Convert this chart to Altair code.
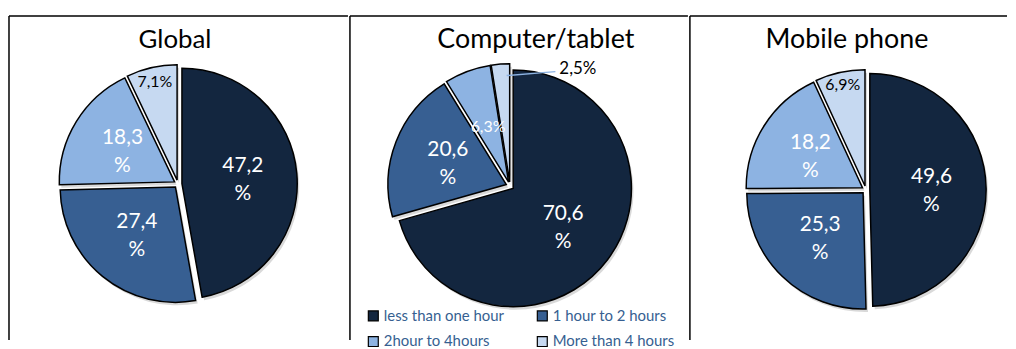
import altair as alt
import pandas as pd

# ---------------- data ----------------
panels = ["Global", "Computer/tablet", "Mobile phone"]
categories = ["less than one hour", "1 hour to 2 hours", "2hour to 4hours", "More than 4 hours"]
global_values = [47.2, 27.4, 18.3, 7.1]
computer_values = [70.6, 20.6, 6.3, 2.5]
mobile_values = [49.6, 25.3, 18.2, 6.9]
panel_values = [global_values, computer_values, mobile_values]

# ---------------- style / layout ----------------
colors = ["#13263F", "#375F92", "#8DB3E2", "#C6D9F1"]
FONT = "Lato"
PANEL_W = [341, 340, 319]
PANEL_H = 326
CENTERS = {"Global": (170, 169), "Computer/tablet": (161, 171), "Mobile phone": (177, 175)}
RADII = {"Global": 116, "Computer/tablet": 119, "Mobile phone": 117}
TITLE_X = {"Global": 167, "Computer/tablet": 187, "Mobile phone": 158}
TITLE_Y = 32
EXPLODE = 4
BIG_LABEL_R = 0.53
SMALL_LABEL_R = {"Global": 0.87, "Computer/tablet": 0.5, "Mobile phone": 0.89}


def fmt(v):
    s = f"{v:.1f}".replace(".", ",")
    return s + ("\n%" if v >= 10 else "%")


def make_panel(name, values, show_legend):
    i = panels.index(name)
    cx, cy = CENTERS[name]
    R = RADII[name]
    df = pd.DataFrame({
        "panel": name,
        "category": categories,
        "idx": list(range(len(categories))),
        "value": values,
        "label": [fmt(v) for v in values],
    })
    base = (
        alt.Chart(df)
        .transform_joinaggregate(total="sum(value)")
        .transform_window(cum="sum(value)", sort=[alt.SortField("idx")], frame=[None, 0])
        .transform_calculate(t0="(datum.cum - datum.value) / datum.total * 2 * PI")
        .transform_calculate(t1="datum.cum / datum.total * 2 * PI")
        .transform_calculate(mid="(datum.t0 + datum.t1) / 2")
        .transform_calculate(px=f"{cx} + sin(datum.mid) * {EXPLODE}")
        .transform_calculate(py=f"{cy} - cos(datum.mid) * {EXPLODE}")
        .transform_calculate(lr=f"(datum.value >= 10 ? {BIG_LABEL_R} : {SMALL_LABEL_R[name]}) * {R}")
        .transform_calculate(lx="datum.px + sin(datum.mid) * datum.lr")
        .transform_calculate(ly="datum.py - cos(datum.mid) * datum.lr - (datum.value >= 10 ? 12 : 0)")
        .transform_calculate(fs="datum.value >= 10 ? 21 : 16")
        # outside-label leader geometry
        .transform_calculate(a2="datum.mid + 27 * PI / 180")
        .transform_calculate(l1x=f"datum.px + sin(datum.mid + 0.05) * {0.9 * R}")
        .transform_calculate(l1y=f"datum.py - cos(datum.mid + 0.05) * {0.9 * R}")
        .transform_calculate(l2x=f"datum.px + sin(datum.a2) * {1.01 * R}")
        .transform_calculate(l2y=f"datum.py - cos(datum.a2) * {1.01 * R}")
    )
    xy = dict(
        x=alt.X("px:Q", scale=None, axis=None),
        y=alt.Y("py:Q", scale=None, axis=None),
        theta=alt.Theta("t0:Q", scale=None, stack=False),
        theta2=alt.Theta2("t1"),
    )
    shadow = base.mark_arc(outerRadius=R, fill="#808080", opacity=0.3, xOffset=2, yOffset=3).encode(**xy)
    if show_legend:
        legend = alt.Legend(
            orient="none", legendX=16, legendY=294, columns=2, direction="horizontal",
            title=None, symbolType="square", symbolSize=100, symbolStrokeColor="black",
            symbolStrokeWidth=1.2, labelFont=FONT, labelFontSize=15,
            labelColor="#365F91", columnPadding=30, rowPadding=10,
            labelOffset=3, padding=0, labelLimit=250,
        )
    else:
        legend = None
    arcs = base.mark_arc(outerRadius=R, stroke="black", strokeWidth=1.5).encode(
        color=alt.Color("category:N", scale=alt.Scale(domain=categories, range=colors), legend=legend),
        **xy,
    )
    labels = base.transform_filter("datum.value >= 5").mark_text(
        font=FONT, lineBreak="\n", lineHeight=28, baseline="middle", align="center"
    ).encode(
        x=alt.X("lx:Q", scale=None, axis=None),
        y=alt.Y("ly:Q", scale=None, axis=None),
        text="label:N",
        size=alt.Size("fs:Q", scale=None, legend=None),
        color=alt.condition("datum.idx == 3", alt.value("black"), alt.value("white")),
    )
    leader = base.transform_filter("datum.value < 5").mark_rule(color="#8DB3E2", strokeWidth=1.5).encode(
        x=alt.X("l1x:Q", scale=None, axis=None),
        y=alt.Y("l1y:Q", scale=None, axis=None),
        x2=alt.X2("l2x"),
        y2=alt.Y2("l2y"),
    )
    outside = base.transform_filter("datum.value < 5").mark_text(
        font=FONT, fontSize=17, baseline="middle", align="left", dx=4, dy=-3, color="black"
    ).encode(
        x=alt.X("l2x:Q", scale=None, axis=None),
        y=alt.Y("l2y:Q", scale=None, axis=None),
        text="label:N",
    )
    title = alt.Chart(pd.DataFrame({"panel": [name]})).mark_text(
        font=FONT, fontSize=27 if i else 26, baseline="alphabetic", align="center", color="black"
    ).encode(x=alt.value(TITLE_X[name]), y=alt.value(TITLE_Y), text="panel:N")
    frame_df = pd.DataFrame({"panel": [name]})
    left_edge = alt.Chart(frame_df).mark_rule(color="black", strokeWidth=1.5).encode(
        x=alt.value(0), y=alt.value(0), y2=alt.value(PANEL_H)
    )
    top_edge = alt.Chart(frame_df).mark_rule(color="black", strokeWidth=1.5).encode(
        x=alt.value(0), x2=alt.value(PANEL_W[i]), y=alt.value(0)
    )
    return alt.layer(left_edge, top_edge, shadow, arcs, labels, leader, outside, title).properties(
        width=PANEL_W[i], height=PANEL_H
    )


charts = [make_panel(n, v, n == "Computer/tablet") for n, v in zip(panels, panel_values)]

chart = (
    alt.hconcat(*charts, spacing=0)
    .resolve_scale(color="independent")
    .resolve_legend(color="independent")
    .configure(font=FONT)
    .configure_view(strokeWidth=0)
    .configure_legend(labelFontSize=15, labelFont=FONT, symbolSize=100)
    .properties(padding={"left": 0, "top": 6, "right": 0, "bottom": 0}, background="white")
)

chart.save("out.html", embed_options={"renderer": "svg", "actions": False})
